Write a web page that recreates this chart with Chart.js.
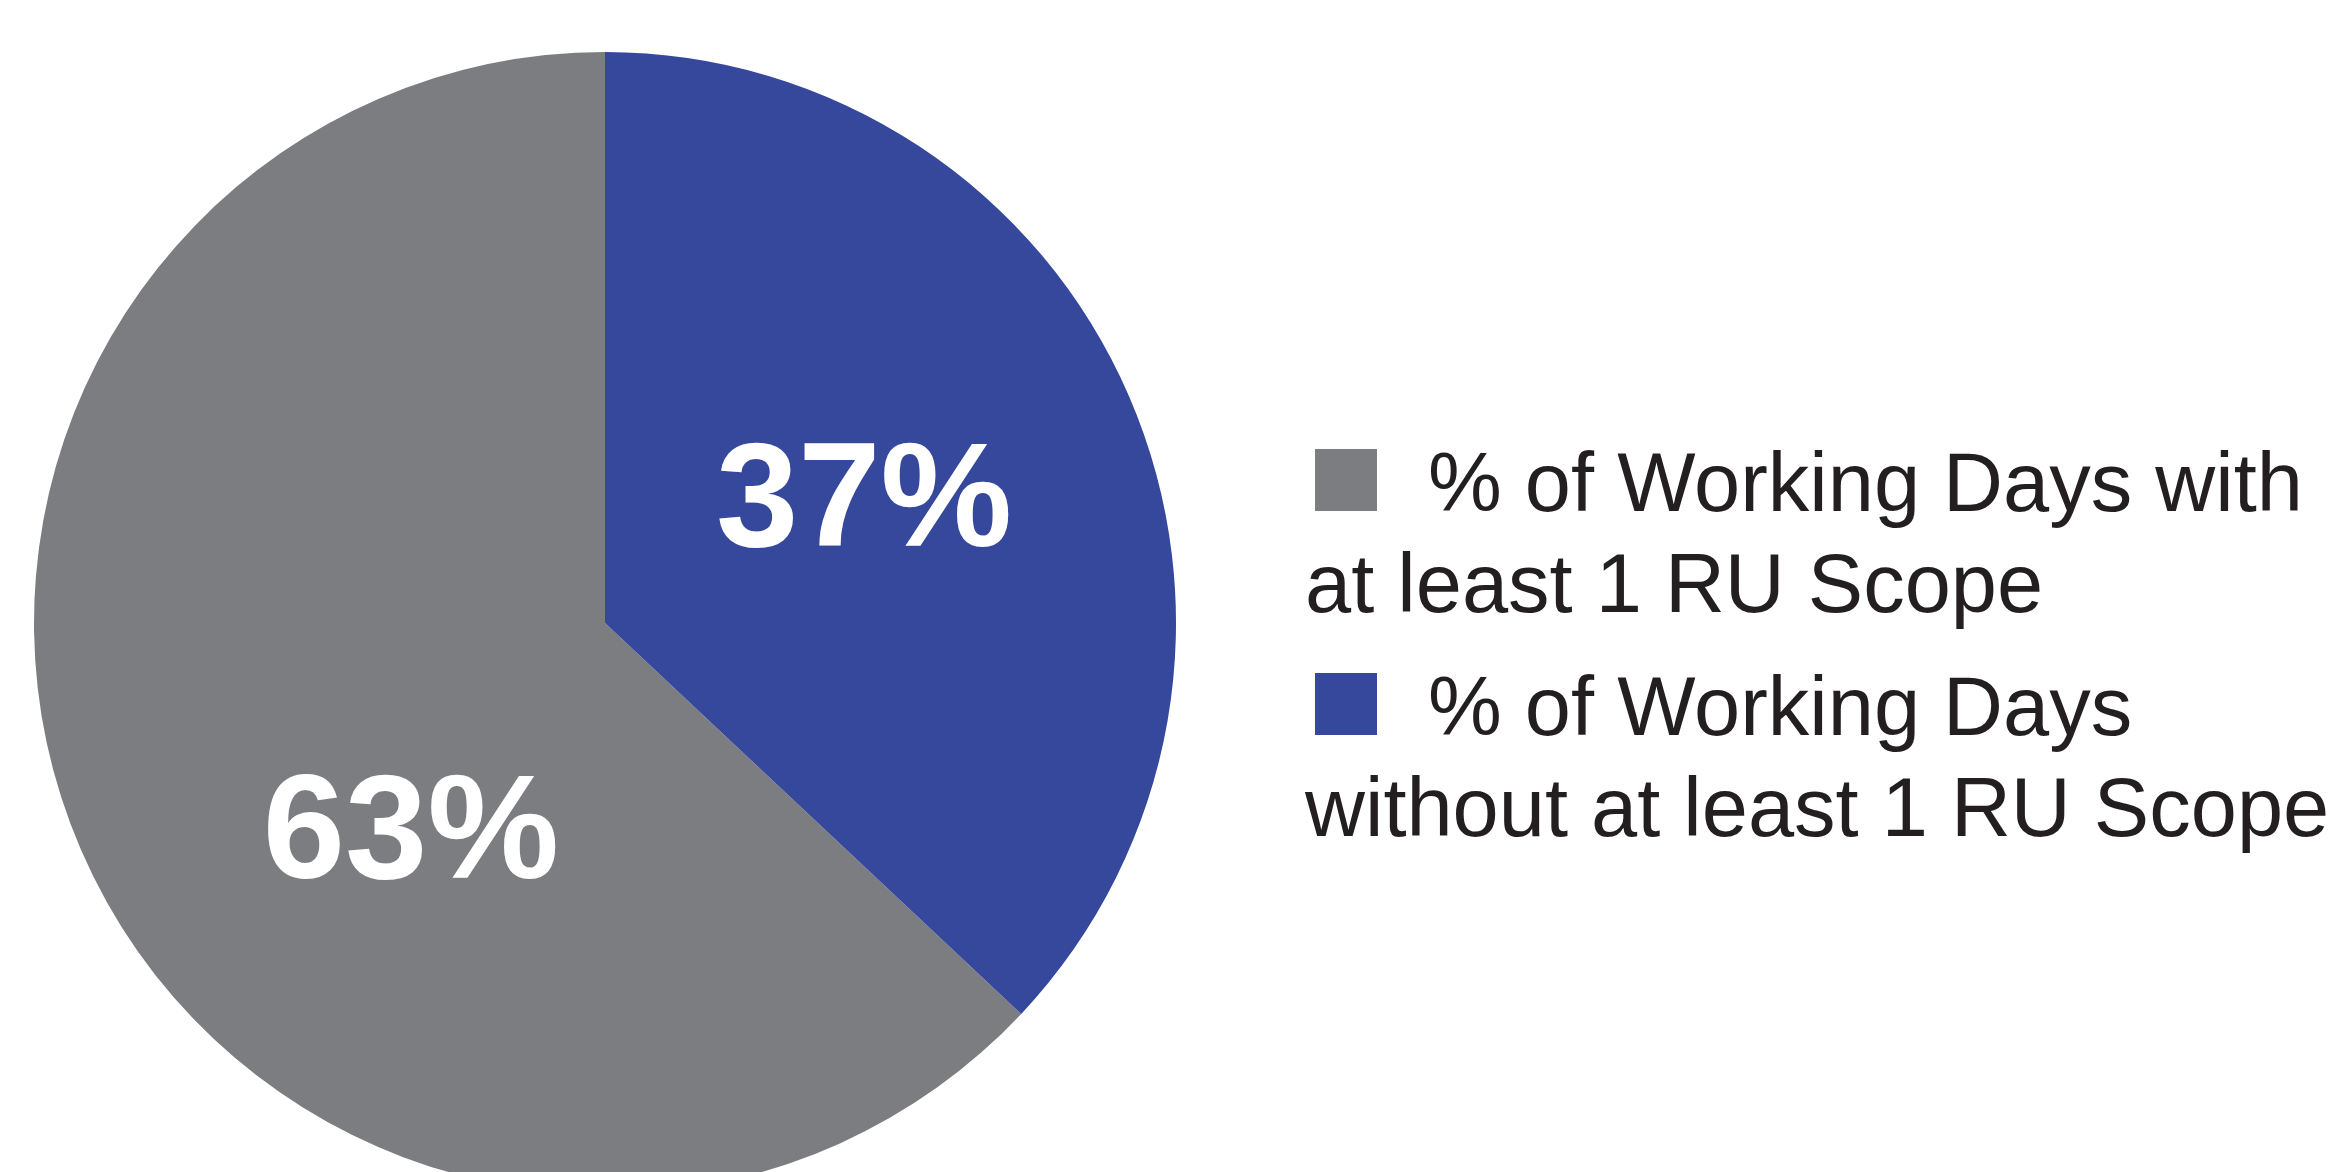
<!DOCTYPE html>
<html>
<head>
<meta charset="utf-8">
<script src="https://cdn.jsdelivr.net/npm/chart.js@4/dist/chart.umd.min.js"></script>
<style>
  html, body { margin: 0; padding: 0; background: #ffffff; overflow: hidden; }
  body { width: 2338px; height: 1172px; position: relative; }
  #pieBox { position: absolute; left: 34px; top: 52px; width: 1142px; height: 1142px; }
  #legend { position: absolute; left: 1305px; top: 432px; width: 1033px;
            font-family: "Liberation Sans", Arial, Helvetica, sans-serif;
            font-size: 83px; line-height: 101px; color: #231f20; }
  .item { margin-bottom: 22px; white-space: nowrap; }
  .swatch { display: inline-block; width: 62px; height: 62px; margin-left: 10px; margin-right: 51px;
            vertical-align: baseline; }
</style>
</head>
<body>
<div id="pieBox"><canvas id="chart"></canvas></div>
<div id="legend"></div>
<script>
// ---- data ----
const categories = ['% of Working Days with at least 1 RU Scope',
                    '% of Working Days without at least 1 RU Scope'];
const legendLines = [
  ['% of Working Days with', 'at least 1 RU Scope'],
  ['% of Working Days', 'without at least 1 RU Scope']
];
const values = [63, 37];
const colors = ['#7c7d81', '#36489c'];
// label placement inside each slice: fraction of slice angle, fraction of radius
const labelAngleFrac = [0.40, 0.475];
const labelRadiusFrac = [0.49, 0.508];

const total = values.reduce((a, b) => a + b, 0);
const startRotation = 360 * values[1] / total;

// ---- HTML legend ----
const legendEl = document.getElementById('legend');
legendLines.forEach((lines, i) => {
  const item = document.createElement('div');
  item.className = 'item';
  const sw = document.createElement('span');
  sw.className = 'swatch';
  sw.style.background = colors[i];
  item.appendChild(sw);
  item.appendChild(document.createTextNode(lines[0]));
  for (let k = 1; k < lines.length; k++) {
    item.appendChild(document.createElement('br'));
    item.appendChild(document.createTextNode(lines[k]));
  }
  legendEl.appendChild(item);
});

// ---- slice label plugin ----
const LABEL_SIZE = 148;
const sliceLabels = {
  id: 'sliceLabels',
  afterDatasetsDraw(chart) {
    const ctx = chart.ctx;
    const meta = chart.getDatasetMeta(0);
    ctx.save();
    ctx.fillStyle = '#ffffff';
    ctx.font = 'bold ' + LABEL_SIZE + 'px "Liberation Sans", Arial, Helvetica, sans-serif';
    ctx.textAlign = 'center';
    ctx.textBaseline = 'alphabetic';
    meta.data.forEach((arc, i) => {
      const p = arc.getProps(['x', 'y', 'startAngle', 'endAngle', 'outerRadius'], true);
      const a = p.startAngle + (p.endAngle - p.startAngle) * labelAngleFrac[i];
      const r = p.outerRadius * labelRadiusFrac[i];
      const pct = Math.round(values[i] / total * 100) + '%';
      // centre the digits' cap height on the anchor point
      ctx.fillText(pct, p.x + Math.cos(a) * r, p.y + Math.sin(a) * r + LABEL_SIZE * 0.358);
    });
    ctx.restore();
  }
};

new Chart(document.getElementById('chart'), {
  type: 'pie',
  data: {
    labels: categories,
    datasets: [{
      data: values,
      backgroundColor: colors,
      borderWidth: 0
    }]
  },
  options: {
    responsive: true,
    maintainAspectRatio: false,
    animation: false,
    rotation: startRotation,
    layout: { padding: 0 },
    plugins: {
      legend: { display: false },
      tooltip: { enabled: false }
    },
    events: []
  },
  plugins: [sliceLabels]
});
</script>
</body>
</html>
